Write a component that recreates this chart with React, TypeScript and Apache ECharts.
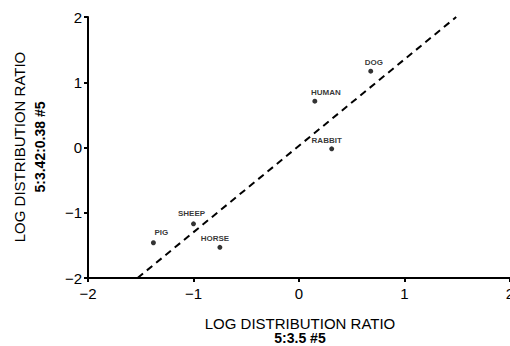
import React, { useEffect, useRef } from "react";
import * as echarts from "echarts";

const species = ["DOG", "HUMAN", "RABBIT", "SHEEP", "PIG", "HORSE"];
const xValues = [0.68, 0.15, 0.31, -1.0, -1.38, -0.75];
const yValues = [1.17, 0.71, -0.02, -1.17, -1.46, -1.53];
const fitLineX = [-1.53, 1.49];
const fitLineY = [-2, 2];
const xTicks = [-2, -1, 0, 1, 2];
const yTicks = [-2, -1, 0, 1, 2];
const xTitle = ["LOG DISTRIBUTION RATIO", "5:3.5 #5"];
const yTitle = ["LOG DISTRIBUTION RATIO", "5:3.42:0.38 #5"];

// label placement relative to each point (layout, not data)
const labelOffsets: Record<string, [number, number]> = {
  DOG: [3, -9],
  HUMAN: [11, -9],
  RABBIT: [-5, -8],
  SHEEP: [-2, -10],
  PIG: [8, -10],
  HORSE: [-5, -9],
};

const FONT = "'Liberation Sans', Arial, Helvetica, sans-serif";

const fmt = (v: number) => (v < 0 ? "\u2212" + Math.abs(v) : String(v));

export default function App() {
  const ref = useRef<HTMLDivElement>(null);
  useEffect(() => {
    if (!ref.current) return;
    const chart = echarts.init(ref.current, null, { renderer: "svg" });
    const points = species.map((name, i) => ({
      name,
      value: [xValues[i], yValues[i]],
      label: { offset: labelOffsets[name] },
    }));
    const axisCommon = {
      interval: 1,
      splitLine: { show: false },
      axisLine: { show: true, onZero: false, lineStyle: { color: "#000", width: 2 } },
      axisTick: { show: true, length: 4, lineStyle: { color: "#000", width: 2 } },
    };
    const labelCommon = {
      color: "#000",
      fontSize: 15,
      fontFamily: FONT,
      formatter: fmt,
      showMinLabel: true,
      showMaxLabel: true,
      hideOverlap: false,
    };
    chart.setOption({
      animation: false,
      backgroundColor: "#fff",
      grid: {
        left: 88,
        right: 0,
        top: 17,
        bottom: 68,
        containLabel: false,
        outerBoundsMode: "none",
      },
      xAxis: {
        type: "value",
        ...axisCommon,
        min: xTicks[0],
        max: xTicks[xTicks.length - 1],
        axisLabel: { ...labelCommon, margin: 8 },
      },
      yAxis: {
        type: "value",
        ...axisCommon,
        min: yTicks[0],
        max: yTicks[yTicks.length - 1],
        axisLabel: { ...labelCommon, margin: 6 },
      },
      series: [
        {
          type: "line",
          data: fitLineX.map((x, i) => [x, fitLineY[i]]),
          symbol: "none",
          silent: true,
          lineStyle: { color: "#000", width: 2, type: [7, 5] },
        },
        {
          type: "scatter",
          data: points,
          symbol: "circle",
          symbolSize: 5,
          itemStyle: { color: "#000" },
          label: {
            show: true,
            position: "inside",
            formatter: (p: any) => p.name,
            color: "#000",
            textBorderWidth: 0,
            textBorderColor: "transparent",
            fontSize: 8,
            fontWeight: "bold",
            fontFamily: FONT,
          },
        },
      ],
      graphic: [
        {
          type: "text",
          x: 300,
          y: 323,
          style: {
            text: xTitle[0],
            fill: "#000",
            font: `15px ${FONT}`,
            textAlign: "center",
            textVerticalAlign: "middle",
          },
        },
        {
          type: "text",
          x: 300,
          y: 338,
          style: {
            text: xTitle[1],
            fill: "#000",
            font: `bold 14px ${FONT}`,
            textAlign: "center",
            textVerticalAlign: "middle",
          },
        },
        {
          type: "text",
          x: 19,
          y: 147,
          rotation: Math.PI / 2,
          style: {
            text: yTitle[0],
            fill: "#000",
            font: `15px ${FONT}`,
            textAlign: "center",
            textVerticalAlign: "middle",
          },
        },
        {
          type: "text",
          x: 40,
          y: 147,
          rotation: Math.PI / 2,
          style: {
            text: yTitle[1],
            fill: "#000",
            font: `bold 14px ${FONT}`,
            textAlign: "center",
            textVerticalAlign: "middle",
          },
        },
      ],
    });
    return () => chart.dispose();
  }, []);
  return (
    <div
      ref={ref}
      style={{ position: "absolute", left: 0, top: 0, width: 510, height: 346 }}
    />
  );
}
